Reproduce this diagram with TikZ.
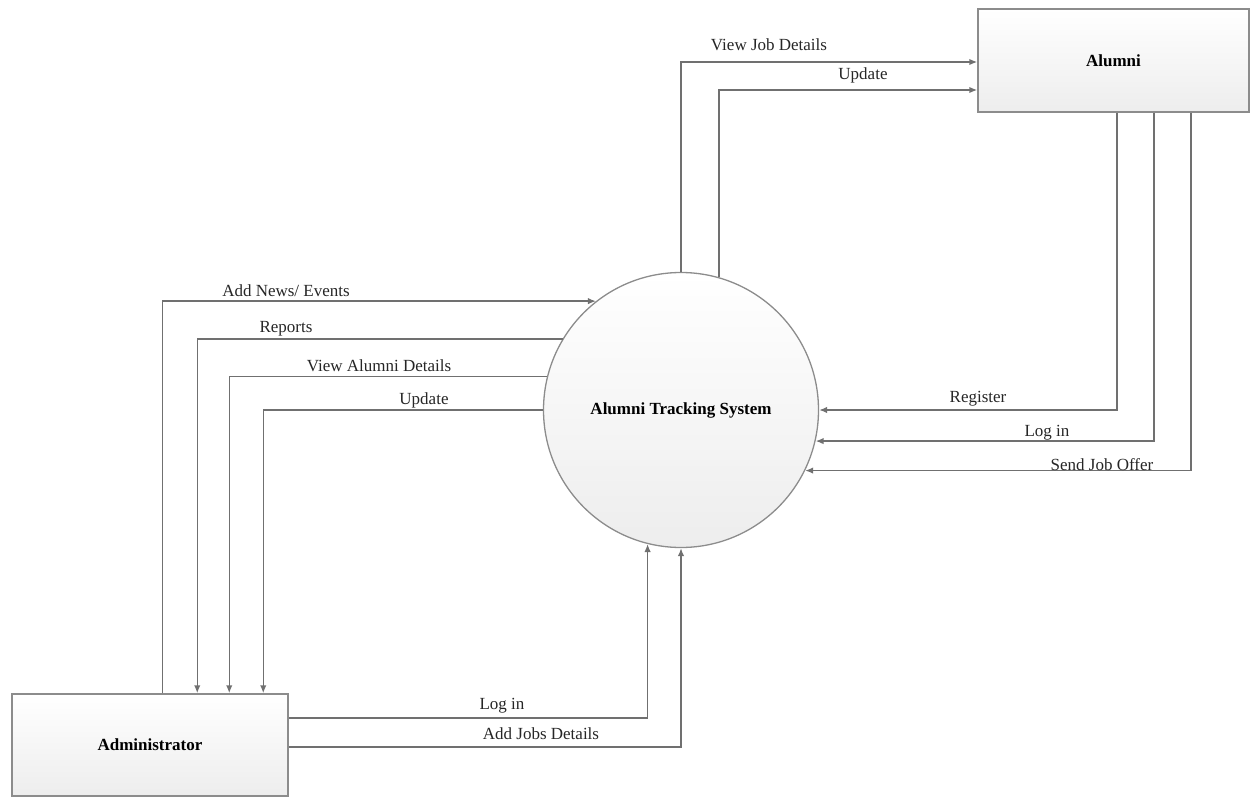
\documentclass[tikz,border=0pt]{standalone}
\usepackage{fontspec}
\setmainfont{Liberation Serif}
\usetikzlibrary{arrows.meta}
\definecolor{lineC}{HTML}{707070}
\definecolor{edgeC}{HTML}{8C8C8C}
\begin{document}
\begin{tikzpicture}[x=1pt,y=-1pt,
  entity/.style={draw=edgeC, line width=1.5pt, top color=white, bottom color=gray!14,
    minimum width=271pt, minimum height=103pt, inner sep=0pt,
    font=\fontsize{17}{20}\selectfont\bfseries},
  proc/.style={circle, draw=edgeC, line width=1.3pt, top color=white, bottom color=gray!14,
    minimum size=275pt, inner sep=0pt, font=\fontsize{17}{20}\selectfont\bfseries},
  flow/.style={draw=lineC, line width=1.5pt, -{Latex[length=8pt,width=6.5pt]}},
  lbl/.style={font=\fontsize{17}{20}\selectfont, text=black!85, inner sep=0pt}]
\useasboundingbox (0,0) rectangle (1256,797);

\node[entity] (alumni) at (1113.5,60.5) {Alumni};
\node[entity, minimum width=276pt, minimum height=102pt] (admin) at (150,745) {Administrator};
\node[proc] (ats) at (681,410) {Alumni Tracking System};

% to Alumni
\draw[flow] (ats.north) |- ([yshift=-1.5pt]alumni.west);
\draw[flow] (ats.74) |- ([yshift=-29.5pt]alumni.west);
% from Alumni
\draw[flow] ([xshift=3.5pt]alumni.south) |- (ats.east);
\draw[flow] ([xshift=40.5pt]alumni.south) |- (ats.-13.7);
\draw[flow] ([xshift=77.5pt]alumni.south) |- (ats.-26.1);
% admin side
\draw[flow] ([xshift=151pt]admin.north west) |- (ats.128.9);
\draw[flow] (ats.149.4) -| ([xshift=186pt]admin.north west);
\draw[flow] (ats.166.1) -| ([xshift=218pt]admin.north west);
\draw[flow] (ats.west) -| ([xshift=252pt]admin.north west);
\draw[flow] ([yshift=27pt]admin.east) -| (ats.256.1);
\draw[flow] ([yshift=-2pt]admin.east) -| (ats.south);

% labels
\node[lbl] (lvjd) at (769,45) {View Job Details};
\node[lbl] (lupa) at (863,75) {Update};
\node[lbl] (lreg) at (978,399) {Register};
\node[lbl] (llia) at (1047,433) {Log in};
\node[lbl] (lsjo) at (1102,465) {Send Job Offer};
\node[lbl] (lane) at (286,291) {Add News/ Events};
\node[lbl] (lrep) at (286,329) {Reports};
\node[lbl] (lvad) at (379,366) {View Alumni Details};
\node[lbl] (lupd) at (424,400) {Update};
\node[lbl] (llib) at (502,706) {Log in};
\node[lbl] (lajd) at (541,734) {Add Jobs Details};
\end{tikzpicture}
\end{document}
